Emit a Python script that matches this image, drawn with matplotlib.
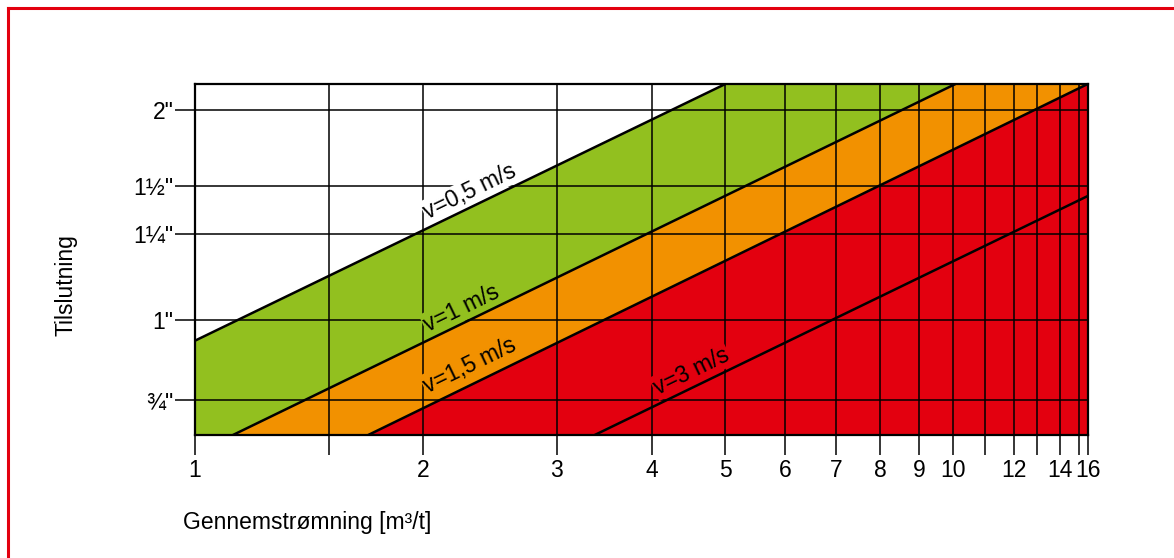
import matplotlib
matplotlib.use('Agg')
import matplotlib.pyplot as plt
from matplotlib.lines import Line2D

plt.rcParams['font.family'] = ['Liberation Sans', 'DejaVu Sans']

# flow [m3/h] vs pipe inner diameter [mm]
x_min, x_max = 1.0, 15.03
y_min, y_max = 20.02, 59.03

x_ticks = [1, 1.5, 2, 3, 4, 5, 6, 7, 8, 9, 10, 11, 12, 12.9, 13.8, 14.64, 15.03]
x_labels = ['1', '', '2', '3', '4', '5', '6', '7', '8', '9', '10', '', '12', '', '14', '', '16']

y_ticks = [22.3, 28.5, 37.2, 43.1, 54.5]
y_labels = ['¾"', '1"', '1¼"', '1½"', '2"']

# end points of the velocity lines
flow_05 = [1.0, 5.003]
diam_05 = [26.77, 59.03]
flow_1 = [1.122, 10.06]
diam_1 = [20.02, 59.03]
flow_15 = [1.692, 15.03]
diam_15 = [20.02, 59.03]
flow_3 = [3.365, 15.03]
diam_3 = [20.02, 41.8]

labels = ['v=0,5 m/s', 'v=1 m/s', 'v=1,5 m/s', 'v=3 m/s']
label_flow = [2.028, 2.028, 2.028, 4.074]
label_diam = [38.95, 27.5, 22.79, 22.65]

green = '#92C01F'
orange = '#F29100'
red = '#E3000F'
fs = 16.5

fig = plt.figure(figsize=(11.74, 5.58), dpi=100)
ax = fig.add_axes([195 / 1174, 1 - 435 / 558, 892.7 / 1174, 351 / 558])
ax.set_xscale('log')
ax.set_yscale('log')
ax.set_xlim(x_min, x_max)
ax.set_ylim(y_min, y_max)

# coloured bands
ax.fill([x_min, flow_05[0], flow_05[1], flow_1[1], flow_1[0]],
        [y_min, diam_05[0], diam_05[1], diam_1[1], diam_1[0]],
        color=green, lw=0, zorder=1)
ax.fill([flow_1[0], flow_1[1], flow_15[1], flow_15[0]],
        [diam_1[0], diam_1[1], diam_15[1], diam_15[0]],
        color=orange, lw=0, zorder=1)
ax.fill([flow_15[0], flow_15[1], x_max],
        [diam_15[0], diam_15[1], y_min],
        color=red, lw=0, zorder=1)

ax.set_xticks(x_ticks)
ax.set_xticklabels(x_labels)
ax.set_xticks([], minor=True)
ax.set_yticks(y_ticks)
ax.set_yticklabels(y_labels)
ax.set_yticks([], minor=True)
ax.grid(True, color='black', lw=1.1, zorder=2)
ax.set_axisbelow(False)
for gl in ax.get_xgridlines() + ax.get_ygridlines():
    gl.set_zorder(2)
ax.tick_params(axis='both', which='major', length=14.5, width=1.1,
               labelsize=fs, color='black')
ax.tick_params(axis='x', pad=3)
ax.tick_params(axis='y', pad=1)
for s in ax.spines.values():
    s.set_linewidth(1.6)
    s.set_zorder(6)

for fx, dy in [(flow_05, diam_05), (flow_1, diam_1), (flow_15, diam_15), (flow_3, diam_3)]:
    ax.plot(fx, dy, color='black', lw=1.8, zorder=5, solid_capstyle='butt')

label_bg = ['white', green, orange, red]
for txt, lx, ly, bg in zip(labels, label_flow, label_diam, label_bg):
    ax.text(lx, ly, txt, rotation=25.9, rotation_mode='anchor',
            ha='left', va='baseline', fontsize=fs, zorder=4,
            bbox=dict(boxstyle='square,pad=0.05', fc=bg, ec='none'))

fig.text(183 / 1174, 1 - 522 / 558, 'Gennemstrømning [m³/t]',
         ha='left', va='center', fontsize=fs)
fig.text(66 / 1174, 1 - 285 / 558, 'Tilslutning', rotation=90,
         ha='center', va='center', fontsize=fs)

# red frame (top and left edge)
fig.add_artist(Line2D([8 / 1174, 1.0], [1 - 8 / 558, 1 - 8 / 558],
                      color=red, lw=2.2, transform=fig.transFigure))
fig.add_artist(Line2D([8 / 1174, 8 / 1174], [0.0, 1 - 8 / 558],
                      color=red, lw=2.2, transform=fig.transFigure))

fig.savefig('out.png', dpi=100)
